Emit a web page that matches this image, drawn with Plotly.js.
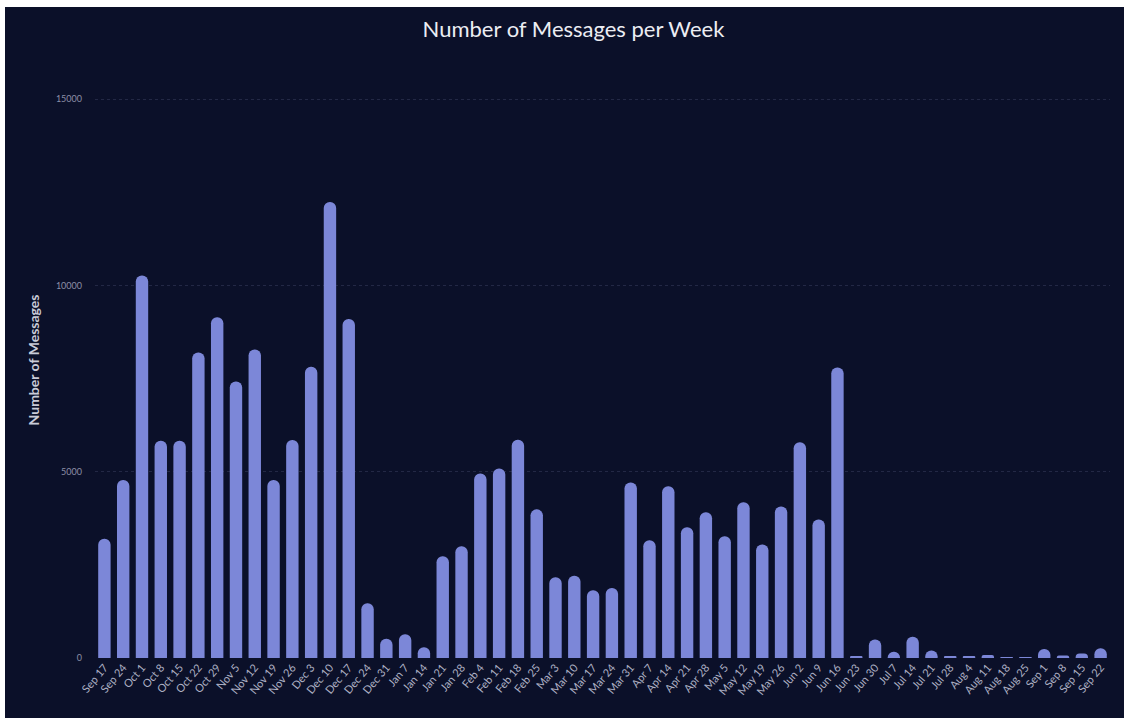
<!DOCTYPE html>
<html>
<head>
<meta charset="utf-8">
<script src="https://cdn.plot.ly/plotly-3.0.1.min.js"></script>
<style>
  html, body { margin: 0; padding: 0; background: #ffffff; }
  #chart { position: absolute; left: 5px; top: 7px; width: 1119px; height: 711px; }
</style>
</head>
<body>
<div id="chart"></div>
<script>
const weeks = ["Sep 17","Sep 24","Oct 1","Oct 8","Oct 15","Oct 22","Oct 29","Nov 5","Nov 12","Nov 19","Nov 26","Dec 3","Dec 10","Dec 17","Dec 24","Dec 31","Jan 7","Jan 14","Jan 21","Jan 28","Feb 4","Feb 11","Feb 18","Feb 25","Mar 3","Mar 10","Mar 17","Mar 24","Mar 31","Apr 7","Apr 14","Apr 21","Apr 28","May 5","May 12","May 19","May 26","Jun 2","Jun 9","Jun 16","Jun 23","Jun 30","Jul 7","Jul 14","Jul 21","Jul 28","Aug 4","Aug 11","Aug 18","Aug 25","Sep 1","Sep 8","Sep 15","Sep 22"];
const messages = [3200,4780,10270,5830,5830,8200,9150,7420,8280,4780,5850,7820,12240,9100,1470,520,640,290,2730,3000,4950,5090,5860,3990,2170,2210,1820,1880,4710,3160,4610,3510,3910,3270,4180,3050,4070,5790,3720,7800,30,500,170,570,200,30,30,80,20,5,240,70,120,260];
const yTicks = [0,5000,10000,15000];

const trace = {
  type: 'bar',
  x: weeks,
  y: messages,
  marker: { color: '#7c87d8' },
  hoverinfo: 'x+y'
};

const layout = {
  paper_bgcolor: '#0b1029',
  plot_bgcolor: '#0b1029',
  margin: { l: 90, r: 14, t: 55, b: 60 },
  bargap: 0.34,
  barcornerradius: '50%',
  showlegend: false,
  title: {
    text: 'Number of Messages per Week',
    font: { family: 'Lato, sans-serif', size: 22, color: '#ecedf3' },
    x: 0.508, xanchor: 'center',
    y: 0.968, yanchor: 'middle', yref: 'container'
  },
  xaxis: {
    type: 'category',
    tickangle: -50,
    tickfont: { family: 'Lato, sans-serif', size: 11, color: '#aeb1c4' },
    showgrid: false,
    zeroline: false,
    ticks: '',
    showline: false
  },
  yaxis: {
    range: [0, 16000],
    tickvals: yTicks,
    ticktext: yTicks.map(String),
    tickfont: { family: 'Lato, sans-serif', size: 9, color: '#8b8fa6' },
    ticklabelstandoff: 12,
    showgrid: true,
    gridcolor: '#232845',
    griddash: 'dot',
    gridwidth: 1,
    zeroline: false,
    showline: false,
    title: {
      text: 'Number of Messages',
      font: { family: 'Lato, sans-serif', size: 14, color: '#c9cbd8', weight: 'bold' },
      standoff: 12
    }
  }
};

Plotly.newPlot('chart', [trace], layout, { displayModeBar: false, responsive: false });
</script>
</body>
</html>
